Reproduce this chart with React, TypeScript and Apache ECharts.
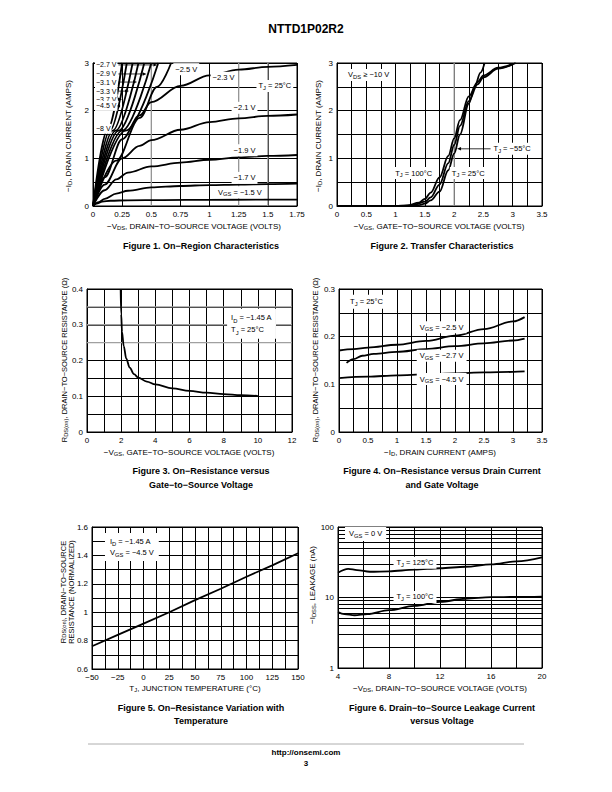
import React, { useEffect, useRef } from 'react';
import * as echarts from 'echarts';

const FONT = '"Liberation Sans", Arial, Helvetica, sans-serif';

// ===== Figure 1: On-Region Characteristics =====
const fig1VgsM8 = [[0, 0], [0.125, 1.6], [0.25, 3]];
const fig1VgsM45 = [[0, 0], [0.145, 1.58], [0.29, 3]];
const fig1VgsM37 = [[0, 0], [0.17, 1.58], [0.34, 3]];
const fig1VgsM33 = [[0, 0], [0.195, 1.58], [0.39, 3]];
const fig1VgsM31 = [[0, 0], [0.22, 1.58], [0.44, 3]];
const fig1VgsM29 = [[0, 0], [0.25, 1.58], [0.5, 3]];
const fig1VgsM27 = [[0, 0], [0.28, 1.58], [0.56, 3]];
const fig1VgsM25 = [[0, 0], [0.2, 0.95], [0.4, 1.85], [0.55, 2.5], [0.67, 3]];
const fig1VgsM23 = [[0, 0], [0.1, 0.6], [0.25, 1.4], [0.4, 1.9], [0.5, 2.18], [0.75, 2.52], [1, 2.74], [1.25, 2.86], [1.5, 2.92], [1.75, 2.96]];
const fig1VgsM21 = [[0, 0], [0.1, 0.45], [0.25, 1.0], [0.4, 1.26], [0.5, 1.38], [0.75, 1.6], [1, 1.76], [1.25, 1.84], [1.5, 1.89], [1.75, 1.92]];
const fig1VgsM19 = [[0, 0], [0.1, 0.33], [0.2, 0.56], [0.3, 0.7], [0.5, 0.83], [0.75, 0.91], [1, 0.97], [1.25, 1.02], [1.5, 1.05], [1.75, 1.07]];
const fig1VgsM17 = [[0, 0], [0.05, 0.08], [0.1, 0.15], [0.2, 0.26], [0.3, 0.32], [0.5, 0.39], [0.75, 0.42], [1, 0.44], [1.25, 0.45], [1.5, 0.46], [1.75, 0.47]];
const fig1VgsM15 = [[0, 0], [0.03, 0.05], [0.08, 0.09], [0.15, 0.11], [0.3, 0.12], [0.6, 0.125], [1, 0.13], [1.4, 0.132], [1.75, 0.135]];
const fig1LeftText = ['−2.7 V', '−2.9 V', '−3.1 V', '−3.3 V', '−3.7 V', '−4.5 V', '−8 V'];
const fig1LeftY = [2.96, 2.77, 2.6, 2.41, 2.24, 2.1, 1.62];

// ===== Figure 2: Transfer Characteristics =====
const fig2Tj100 = [[0, 0], [1.0, 0], [1.2, 0.01], [1.4, 0.07], [1.5, 0.15], [1.6, 0.28], [1.75, 0.6], [1.9, 1.05], [2.0, 1.42], [2.1, 1.8], [2.25, 2.3], [2.4, 2.6], [2.5, 2.74], [2.75, 2.9], [3.0, 2.98]];
const fig2Tj25 = [[0, 0], [1.1, 0], [1.3, 0.02], [1.5, 0.09], [1.6, 0.18], [1.75, 0.45], [1.9, 0.9], [2.0, 1.28], [2.1, 1.68], [2.25, 2.2], [2.4, 2.55], [2.5, 2.7], [2.75, 2.88], [3.05, 3.0]];
const fig2TjM55 = [[0, 0], [1.2, 0], [1.4, 0.02], [1.5, 0.05], [1.6, 0.12], [1.75, 0.3], [1.9, 0.75], [2.0, 1.1], [2.1, 1.5], [2.25, 2.15], [2.35, 2.5], [2.45, 2.8], [2.52, 3.0]];

// ===== Figure 3: On-Resistance vs Gate-to-Source Voltage =====
const fig3Rds = [[1.97, 0.4], [2.0, 0.33], [2.05, 0.28], [2.15, 0.24], [2.3, 0.205], [2.5, 0.18], [2.75, 0.162], [3, 0.152], [3.5, 0.141], [4, 0.133], [5, 0.122], [6, 0.115], [7, 0.11], [8, 0.106], [9, 0.103], [10, 0.101]];

// ===== Figure 4: On-Resistance vs Drain Current =====
const fig4VgsM25 = [[0, 0.171], [0.25, 0.174], [0.5, 0.177], [1, 0.183], [1.5, 0.191], [2, 0.202], [2.5, 0.216], [3, 0.232], [3.2, 0.241]];
const fig4VgsM27 = [[0.13, 0.145], [0.25, 0.153], [0.4, 0.16], [0.6, 0.164], [1, 0.168], [1.5, 0.174], [2, 0.18], [2.5, 0.186], [3, 0.192], [3.2, 0.196]];
const fig4VgsM45 = [[0, 0.113], [0.5, 0.116], [1, 0.119], [1.5, 0.121], [2, 0.123], [2.5, 0.125], [3, 0.126], [3.2, 0.127]];

// ===== Figure 5: On-Resistance vs Temperature =====
const fig5Temp = [-50, -25, 0, 25, 50, 75, 100, 125, 150];
const fig5Rds = [0.76, 0.84, 0.92, 1.0, 1.085, 1.165, 1.25, 1.33, 1.415];

// ===== Figure 6: Leakage vs Voltage =====
const fig6Tj125 = [[4, 22.5], [4.8, 25.5], [5.5, 24.5], [6.5, 23.2], [8, 23.5], [10, 24.8], [12, 26], [14, 27.3], [16, 29.5], [18, 32.5], [20, 37]];
const fig6Tj100 = [[4, 6.2], [4.5, 5.8], [5.3, 5.6], [6.3, 5.8], [8, 6.6], [10, 7.6], [12, 8.7], [14, 9.6], [16, 10.1], [18, 10.2], [20, 10.3]];
const fig6MinorGrid = [2, 3, 4, 5, 6, 7, 8, 9, 20, 30, 40, 50, 60, 70, 80, 90];

const GRIDS = [
  { left: 93, top: 63, width: 204, height: 143 },
  { left: 337, top: 63, width: 205, height: 143 },
  { left: 87, top: 289, width: 205, height: 143 },
  { left: 339, top: 289, width: 203, height: 143 },
  { left: 92, top: 527, width: 206, height: 142 },
  { left: 338, top: 527, width: 204, height: 141 },
];

const TICK_FS = 8;
const TITLE_FS = 8;
const LABEL_FS = 7.5;

const fmtNum = (v: number) => {
  const r = parseFloat(v.toFixed(4));
  return r < 0 ? '\u2212' + Math.abs(r) : String(r);
};
const every = (step: number) => (v: number) =>
  Math.abs(v / step - Math.round(v / step)) < 1e-6 ? fmtNum(v) : '';

function axis(gridIndex: number, min: number, max: number, interval: number, labelStep: number) {
  return {
    type: 'value', gridIndex, min, max, interval,
    axisLine: { show: true, onZero: false, lineStyle: { color: '#000', width: 1 } },
    axisTick: { show: false },
    axisLabel: { show: true, color: '#000', fontSize: TICK_FS, fontFamily: FONT, margin: 4, formatter: every(labelStep) },
    splitLine: { show: true, lineStyle: { color: '#000', width: 1 } },
  };
}

function curve(idx: number, data: any[], extra: any = {}) {
  return {
    type: 'line', xAxisIndex: idx, yAxisIndex: idx, data, showSymbol: false, symbol: 'none',
    smooth: 0.35, smoothMonotone: 'x', silent: true, z: 3,
    lineStyle: { color: '#000', width: 1.8 }, ...extra,
  };
}

const RICH = {
  s: { fontSize: 5.8, fontFamily: FONT, fill: '#000', verticalAlign: 'bottom', lineHeight: 5 },
};

let ctx: CanvasRenderingContext2D | null = null;
function measure(s: string, size: number) {
  if (!ctx) ctx = document.createElement('canvas').getContext('2d');
  ctx!.font = `${size}px ${FONT}`;
  return ctx!.measureText(s).width;
}
function richWidth(s: string, size: number) {
  let w = 0;
  const re = /\{s\|([^}]*)\}/g;
  let last = 0; let m;
  while ((m = re.exec(s))) {
    w += measure(s.slice(last, m.index), size);
    w += measure(m[1], 5.8);
    last = m.index + m[0].length;
  }
  w += measure(s.slice(last), size);
  return w;
}

function txt(x: number, y: number, text: string, o: any = {}) {
  const align = o.align ?? 'center';
  const va = o.vAlign ?? 'middle';
  return {
    type: 'text', x, y, z: o.z ?? 50, rotation: o.rotation ?? 0, silent: true,
    style: {
      text, x: 0, y: 0, fill: '#000', fontFamily: FONT, fontSize: o.size ?? TITLE_FS,
      fontWeight: o.weight ?? 'normal',
      align, textAlign: align, verticalAlign: va, textVerticalAlign: va,
      lineHeight: o.lineHeight ?? 10,
      backgroundColor: o.bg, padding: o.padding,
      rich: RICH,
    },
  };
}

function arrow(x1: number, y1: number, x2: number, y2: number) {
  const ang = Math.atan2(y2 - y1, x2 - x1);
  const L = 4, W = 1.7;
  const bx = x2 - L * Math.cos(ang), by = y2 - L * Math.sin(ang);
  const nx = -Math.sin(ang) * W, ny = Math.cos(ang) * W;
  return [
    { type: 'line', z: 49, silent: true, shape: { x1, y1, x2: bx, y2: by }, style: { stroke: '#000', lineWidth: 0.8 } },
    { type: 'polygon', z: 49, silent: true, shape: { points: [[x2, y2], [bx + nx, by + ny], [bx - nx, by - ny]] }, style: { fill: '#000' } },
  ];
}

function xAtY(data: number[][], y: number) {
  for (let i = 1; i < data.length; i++) {
    const [x0, y0] = data[i - 1]; const [x1, y1] = data[i];
    if ((y - y0) * (y - y1) <= 0 && y1 !== y0) return x0 + (x1 - x0) * (y - y0) / (y1 - y0);
  }
  return data[data.length - 1][0];
}

function buildOption() {
  return {
    animation: false,
    backgroundColor: '#fff',
    grid: GRIDS.map(g => ({ ...g, show: true, borderColor: '#000', borderWidth: 1, containLabel: false })),
    xAxis: [
      axis(0, 0, 1.75, 0.25, 0.25),
      axis(1, 0, 3.5, 0.25, 0.5),
      axis(2, 0, 12, 1, 2),
      axis(3, 0, 3.5, 0.25, 0.5),
      axis(4, -50, 150, 12.5, 25),
      axis(5, 4, 20, 2, 4),
    ],
    yAxis: [
      axis(0, 0, 3, 0.5, 1),
      axis(1, 0, 3, 0.5, 1),
      axis(2, 0, 0.4, 0.05, 0.1),
      axis(3, 0, 0.3, 0.05, 0.1),
      axis(4, 0.6, 1.6, 0.1, 0.2),
      {
        type: 'log', gridIndex: 5, min: 1, max: 100, logBase: 10,
        axisLine: { show: true, onZero: false, lineStyle: { color: '#000', width: 1 } },
        axisTick: { show: false },
        axisLabel: { color: '#000', fontSize: TICK_FS, fontFamily: FONT, margin: 4, formatter: (v: number) => String(Math.round(v)) },
        splitLine: { show: true, lineStyle: { color: '#000', width: 1 } },
      },
    ],
    series: [
      ...[fig1VgsM8, fig1VgsM45, fig1VgsM37, fig1VgsM33, fig1VgsM31, fig1VgsM29, fig1VgsM27, fig1VgsM25,
        fig1VgsM23, fig1VgsM21, fig1VgsM19, fig1VgsM17, fig1VgsM15].map(d => curve(0, d)),
      curve(1, fig2Tj100), curve(1, fig2Tj25), curve(1, fig2TjM55),
      curve(2, fig3Rds),
      curve(3, fig4VgsM25), curve(3, fig4VgsM27), curve(3, fig4VgsM45),
      curve(4, fig5Temp.map((t, i) => [t, fig5Rds[i]]), { smooth: false }),
      curve(5, fig6Tj125, {
        markLine: {
          silent: true, symbol: ['none', 'none'], label: { show: false },
          lineStyle: { color: '#000', width: 1, type: 'solid' },
          data: fig6MinorGrid.map(v => ({ yAxis: v })),
        },
      }),
      curve(5, fig6Tj100),
    ],
  };
}

function buildGraphics(chart: any) {
  const P = (g: number, x: number, y: number) => chart.convertToPixel({ gridIndex: g }, [x, y]) as number[];
  const els: any[] = [];
  const gray = (g: number, xs: number[], ys: number[]) => {
    const gr = GRIDS[g];
    xs.forEach(v => { const [px] = P(g, v, 0); els.push({ type: 'line', z: 1, silent: true, shape: { x1: px, y1: gr.top, x2: px, y2: gr.top + gr.height }, style: { stroke: '#a0a0a0', lineWidth: 1.3 } }); });
    ys.forEach(v => { const [, py] = P(g, 0, v); els.push({ type: 'line', z: 1, silent: true, shape: { x1: gr.left, y1: py, x2: gr.left + gr.width, y2: py }, style: { stroke: '#a0a0a0', lineWidth: 1.3 } }); });
  };
  gray(0, [0.5, 1.25, 1.5], []);
  gray(1, [2], []);
  gray(2, [], [0.25, 0.3, 0.35]);

  // header / footer
  els.push(txt(306, 29, 'NTTD1P02R2', { size: 12, weight: 'bold' }));
  els.push({ type: 'line', z: 50, silent: true, shape: { x1: 88, y1: 744, x2: 524, y2: 744 }, style: { stroke: '#999', lineWidth: 0.8 } });
  els.push(txt(306, 752, 'http://onsemi.com', { size: 8, weight: 'bold' }));
  els.push(txt(306, 763, '3', { size: 8, weight: 'bold' }));

  // captions
  const cap = (x: number, y: number, t: string) => els.push(txt(x, y, t, { size: 9, weight: 'bold' }));
  cap(201, 246, 'Figure 1. On\u2212Region Characteristics');
  cap(442, 246, 'Figure 2. Transfer Characteristics');
  cap(201, 471, 'Figure 3. On\u2212Resistance versus');
  cap(201, 485, 'Gate\u2212to\u2212Source Voltage');
  cap(442, 471, 'Figure 4. On\u2212Resistance versus Drain Current');
  cap(442, 485, 'and Gate Voltage');
  cap(201, 708, 'Figure 5. On\u2212Resistance Variation with');
  cap(201, 721, 'Temperature');
  cap(442, 708, 'Figure 6. Drain\u2212to\u2212Source Leakage Current');
  cap(442, 721, 'versus Voltage');

  // x axis titles
  els.push(txt(194, 226, '−V{s|DS}, DRAIN−TO−SOURCE VOLTAGE (VOLTS)'));
  els.push(txt(439, 226, '−V{s|GS}, GATE−TO−SOURCE VOLTAGE (VOLTS)'));
  els.push(txt(189, 452, '−V{s|GS}, GATE−TO−SOURCE VOLTAGE (VOLTS)'));
  els.push(txt(440, 452, '−I{s|D}, DRAIN CURRENT (AMPS)'));
  els.push(txt(195, 688, 'T{s|J}, JUNCTION TEMPERATURE (°C)'));
  els.push(txt(440, 688, '−V{s|DS}, DRAIN−TO−SOURCE VOLTAGE (VOLTS)'));

  // y axis titles
  const R = Math.PI / 2;
  els.push(txt(68, 136, '−I{s|D}, DRAIN CURRENT (AMPS)', { rotation: R }));
  els.push(txt(318, 136, '−I{s|D}, DRAIN CURRENT (AMPS)', { rotation: R }));
  els.push(txt(64, 360, 'R{s|DS(on)}, DRAIN−TO−SOURCE RESISTANCE (Ω)', { rotation: R, size: 7.5 }));
  els.push(txt(315, 360, 'R{s|DS(on)}, DRAIN−TO−SOURCE RESISTANCE (Ω)', { rotation: R, size: 7.5 }));
  els.push(txt(67, 592, 'R{s|DS(on)}, DRAIN−TO−SOURCE\nRESISTANCE (NORMALIZED)', { rotation: R, lineHeight: 8, size: 7.5 }));
  els.push(txt(312, 585, '−I{s|DSS}, LEAKAGE (nA)', { rotation: R }));

  // Figure 1 left labels with leaders
  const leftCurves = [fig1VgsM27, fig1VgsM29, fig1VgsM31, fig1VgsM33, fig1VgsM37, fig1VgsM45, fig1VgsM8];
  fig1LeftText.forEach((t, i) => {
    const [, py] = P(0, 0, fig1LeftY[i]);
    const lx = 95;
    els.push(txt(lx, py, t, { align: 'left', size: 7, bg: '#fff', padding: [0, 1], z: 52 }));
    if (i < 6) {
      const w = measure(t, 7) + 2;
      const [tx] = P(0, xAtY(leftCurves[i], fig1LeftY[i]), 0);
      els.push(...arrow(lx + w + 1, py, tx, py));
    }
  });
  const f1Right: [string, number, number][] = [
    ['−2.5 V', 0.8, 2.87], ['−2.3 V', 1.12, 2.69], ['T{s|J} = 25°C', 1.56, 2.52], ['−2.1 V', 1.3, 2.06],
    ['−1.9 V', 1.3, 1.17], ['−1.7 V', 1.3, 0.59], ['V{s|GS} = −1.5 V', 1.26, 0.29],
  ];
  f1Right.forEach(([t, x, y]) => { const [px, py] = P(0, x, y); els.push(txt(px, py, t, { size: LABEL_FS, bg: '#fff', padding: [1, 2] })); });

  // Figure 2 labels
  const f2: [string, number, number][] = [
    ['V{s|DS} ≥ −10 V', 0.54, 2.75], ['T{s|J} = 100°C', 1.31, 0.69], ['T{s|J} = 25°C', 2.24, 0.69],
  ];
  f2.forEach(([t, x, y]) => { const [px, py] = P(1, x, y); els.push(txt(px, py, t, { size: LABEL_FS, bg: '#fff', padding: [1, 2] })); });
  {
    const t = 'T{s|J} = −55°C';
    const [px, py] = P(1, 2.99, 1.2);
    els.push(txt(px, py, t, { size: LABEL_FS, bg: '#fff', padding: [1, 2] }));
    const w = richWidth(t, LABEL_FS);
    const [ax, ay] = P(1, 2.05, 1.2);
    els.push(...arrow(px - w / 2 - 3, py, ax, ay));
  }

  // Figure 3 label
  {
    const [px, py] = P(2, 8.2, 0.3025);
    els.push(txt(px, py, 'I{s|D} = −1.45 A\nT{s|J} = 25°C', { align: 'left', size: LABEL_FS, bg: '#fff', padding: [3, 4], lineHeight: 12 }));
  }

  // Figure 4 labels
  {
    const [px, py] = P(3, 0.14, 0.273);
    els.push(txt(px, py, 'T{s|J} = 25°C', { align: 'left', size: LABEL_FS, bg: '#fff', padding: [2, 3] }));
    const f4: [string, number, number][] = [['V{s|GS} = −2.5 V', 1.77, 0.22], ['V{s|GS} = −2.7 V', 1.77, 0.16], ['V{s|GS} = −4.5 V', 1.77, 0.111]];
    f4.forEach(([t, x, y]) => { const [qx, qy] = P(3, x, y); els.push(txt(qx, qy, t, { size: LABEL_FS, bg: '#fff', padding: [1, 3] })); });
  }

  // Figure 5 label
  {
    const [px, py] = P(4, -37.4, 1.459);
    els.push(txt(px, py, 'I{s|D} = −1.45 A\nV{s|GS} = −4.5 V', { align: 'left', size: LABEL_FS, bg: '#fff', padding: [3, 5], lineHeight: 11 }));
  }

  // Figure 6 labels
  {
    const [px, py] = P(5, 4.55, 79.6);
    els.push(txt(px, py, 'V{s|GS} = 0 V', { align: 'left', size: LABEL_FS, bg: '#fff', padding: [2, 4] }));
    const f6: [string, number, number][] = [['T{s|J} = 125°C', 10.04, 31], ['T{s|J} = 100°C', 10.04, 10.2]];
    f6.forEach(([t, x, y]) => { const [qx, qy] = P(5, x, y); els.push(txt(qx, qy, t, { size: LABEL_FS, bg: '#fff', padding: [1, 3] })); });
  }
  return els;
}

export default function App() {
  const ref = useRef<HTMLDivElement>(null);
  useEffect(() => {
    const chart = echarts.init(ref.current!, undefined, { renderer: 'svg', width: 612, height: 792 });
    chart.setOption(buildOption() as any);
    chart.setOption({ graphic: buildGraphics(chart) } as any);
    return () => chart.dispose();
  }, []);
  return <div ref={ref} style={{ position: 'absolute', left: 0, top: 0, width: 612, height: 792, background: '#fff' }} />;
}
